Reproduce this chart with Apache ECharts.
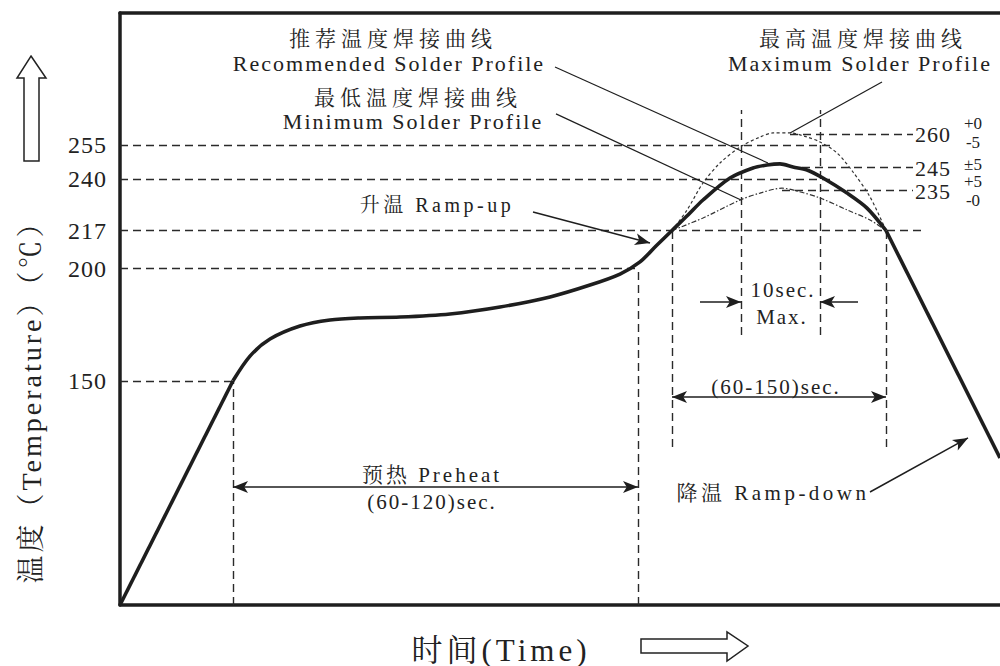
<!DOCTYPE html>
<html>
<head>
<meta charset="utf-8">
<script src="https://cdn.jsdelivr.net/npm/echarts@6/dist/echarts.min.js"></script>
<style>
html,body{margin:0;padding:0;background:#fff;}
#chart{width:1000px;height:666px;}
#chart svg text{letter-spacing:2px;}
</style>
</head>
<body>
<div id="chart"></div>
<script>
// ---- data (time in arbitrary units, temperature in °C) ----
const yTickValues = [150, 200, 217, 240, 255];
const rampUp = [[0, 50], [56.5, 150]];
const recommended = [
  [56.5, 150], [65, 161.0], [75, 168.6], [90, 174.4], [105, 177.1], [120, 178.0],
  [140, 178.4], [165, 179.8], [190, 182.9], [215, 187.4], [235, 192.7], [250, 197.6],
  [260, 203.0], [268, 210.1], [276, 217], [284, 223.9], [291.5, 230.6], [305, 240.4],
  [316.5, 244.9], [323.5, 246.2], [330, 246.7], [336.5, 245.3], [343.5, 244.0],
  [351.5, 240.4], [363.5, 233.7], [373.5, 227.0], [383, 217]
];
const rampDown = [[383, 217], [440, 115.6]];
const maxProfile = [
  [276, 217], [283.5, 226.1], [291.5, 238.2], [300, 247.1], [310, 254.2], [320, 258.7],
  [326.5, 260.5], [335, 260.5], [343.5, 258.7], [350, 256.5], [358.5, 251.6],
  [366.5, 243.1], [375, 232.0], [383, 217]
];
const minProfile = [
  [276, 217], [291.5, 222.6], [310, 230.6], [320, 233.7], [331, 235.9], [338.5, 234.6],
  [350, 231.5], [363.5, 226.2], [375, 221.7], [383, 217]
];
// reference (dashed) levels: [temperature, fromTime, toTime]
const hLevels = [[255, 0, 356], [240, 0, 356], [217, 0, 401], [200, 0, 260], [150, 0, 56.5],
                 [260, 335, 396.5], [245, 341, 396.5], [235, 331, 396.5]];
// vertical dashed markers: [time, fromTemp, toTemp]
const vMarkers = [[56.5, 50, 150], [259, 50, 200], [276, 120.5, 217], [383, 120.5, 217],
                  [310.5, 170.4, 270.7], [350, 170.4, 270.7]];
// dimension arrows: [t1, T1, t2, T2, arrowAtStart, arrowAtEnd]
const arrows = [
  [56.5, 102.6, 259, 102.6, 1, 1],
  [276, 142.8, 383, 142.8, 1, 1],
  [290, 185.1, 310.5, 185.1, 0, 1],
  [369, 185.1, 350, 185.1, 0, 1],
  [206.5, 225.3, 265, 211.4, 0, 1],
  [375, 100.4, 424, 124.5, 0, 1]
];
// leader lines: [t1, T1, t2, T2]
const leaders = [[217.5, 289.9, 324, 247.1], [218, 269.0, 310.5, 230.6], [381, 283.2, 335, 260.5]];

const FONT = '"Liberation Serif", "Noto Serif CJK SC", "Noto Sans CJK SC", serif';
const INK = '#1e1e1e';

const dashStyle = {color: '#2a2a2a', width: 1.4, type: [8, 5]};
const markData = [];
hLevels.forEach(([T, a, b]) => markData.push([{coord: [a, T]}, {coord: [b, T], lineStyle: dashStyle}]));
vMarkers.forEach(([t, a, b]) => markData.push([{coord: [t, a]}, {coord: [t, b], lineStyle: dashStyle}]));
arrows.forEach(([t1, T1, t2, T2, s, e]) => markData.push([
  {coord: [t1, T1], symbol: s ? 'arrow' : 'none', symbolSize: [9, 15]},
  {coord: [t2, T2], symbol: e ? 'arrow' : 'none', symbolSize: [9, 15], lineStyle: {color: INK, width: 1.5, type: 'solid'}}
]));
leaders.forEach(([t1, T1, t2, T2]) => markData.push([
  {coord: [t1, T1], symbol: 'none'},
  {coord: [t2, T2], symbol: 'none', lineStyle: {color: INK, width: 1.2, type: 'solid'}}
]));

function txt(text, x, y, size, align, rot) {
  return {type: 'text', x: x, y: y, rotation: rot || 0, silent: true, z: 100,
    style: {text: text, font: size + 'px ' + FONT, fill: '#222',
      textAlign: align || 'center', align: align || 'center',
      textVerticalAlign: 'middle', verticalAlign: 'middle'}};
}

const graphics = [
  txt('推荐温度焊接曲线', 393, 39, 21),
  txt('Recommended Solder Profile', 389, 63, 22),
  txt('最低温度焊接曲线', 418, 98, 21),
  txt('Minimum Solder Profile', 413, 121, 22),
  txt('最高温度焊接曲线', 863, 39, 21),
  txt('Maximum Solder Profile', 860, 63, 22),
  txt('升温 Ramp-up', 437, 205, 20),
  txt('降温 Ramp-down', 773, 493, 21),
  txt('预热 Preheat', 432, 475, 21),
  txt('(60-120)sec.', 432, 502, 21),
  txt('10sec.', 783, 290, 21),
  txt('Max.', 782, 317, 21),
  txt('(60-150)sec.', 776, 387, 21),
  txt('260', 915, 134, 22, 'left'),
  txt('+0', 973, 123, 17),
  txt('-5', 973, 142, 17),
  txt('245', 915, 168, 22, 'left'),
  txt('±5', 973, 164, 17),
  txt('235', 915, 191, 22, 'left'),
  txt('+5', 973, 181, 17),
  txt('-0', 973, 200, 17),
  txt('时间(Time)', 501, 650, 31),
  txt('温度（Temperature）（℃）', 31, 395, 28, 'center', Math.PI / 2),
  {type: 'polygon', silent: true, shape: {points: [[31, 56], [46, 78], [39, 78], [39, 161], [24, 161], [24, 78], [17, 78]]},
    style: {fill: '#fff', stroke: '#222', lineWidth: 1.5}},
  {type: 'polygon', silent: true, shape: {points: [[641, 639], [727, 639], [727, 632], [748, 646], [727, 661], [727, 653], [641, 653]]},
    style: {fill: '#fff', stroke: '#222', lineWidth: 1.5}}
];

const frameLine = {show: true, onZero: false, lineStyle: {color: INK, width: 3.5}};
const mainLine = {color: INK, width: 3.6};
const option = {
  animation: false,
  backgroundColor: '#fff',
  grid: {left: 120, right: 0, top: 13, bottom: 61, show: false},
  xAxis: [
    {type: 'value', min: 0, max: 440, position: 'bottom', axisLine: frameLine, axisTick: {show: false},
      axisLabel: {show: false}, splitLine: {show: false}},
    {type: 'value', min: 0, max: 440, position: 'top', axisLine: frameLine, axisTick: {show: false},
      axisLabel: {show: false}, splitLine: {show: false}}
  ],
  yAxis: {
    type: 'value', min: 50, max: 314,
    axisLine: frameLine, axisTick: {show: false}, splitLine: {show: false},
    axisLabel: {customValues: yTickValues, fontSize: 24, fontFamily: FONT, color: '#222', margin: 13}
  },
  series: [
    {type: 'line', data: rampUp, symbol: 'none', lineStyle: mainLine, z: 5, silent: true},
    {type: 'line', data: recommended, symbol: 'none', smooth: 0.3, lineStyle: mainLine, z: 5, silent: true,
      markLine: {silent: true, symbol: 'none', label: {show: false}, emphasis: {disabled: true}, data: markData, z: 3}},
    {type: 'line', data: rampDown, symbol: 'none', lineStyle: mainLine, z: 5, silent: true},
    {type: 'line', data: maxProfile, symbol: 'none', smooth: 0.3, z: 4, silent: true,
      lineStyle: {color: '#333', width: 1.2, type: [3, 2.5]}},
    {type: 'line', data: minProfile, symbol: 'none', smooth: 0.3, z: 4, silent: true,
      lineStyle: {color: '#333', width: 1.2, type: [5, 2, 1.5, 2]}}
  ],
  graphic: graphics
};

const dom = document.getElementById('chart');
const chart = echarts.init(dom, null, {renderer: 'svg'});
chart.setOption(option);

const spacing = {
  '推荐温度焊接曲线': 5, '最低温度焊接曲线': 5, '最高温度焊接曲线': 5,
  '升温 Ramp-up': 3.5, '降温 Ramp-down': 3.5, '预热 Preheat': 3,
  '150': 1, '200': 1, '217': 1, '240': 1, '255': 1,
  '260': 1, '245': 1, '235': 1, '+0': 0, '-5': 0, '±5': 0, '+5': 0, '-0': 0,
  '时间(Time)': 4, '温度（Temperature）（℃）': 3
};
function applySpacing() {
  dom.querySelectorAll('text').forEach(function (el) {
    const t = el.textContent;
    const ls = spacing.hasOwnProperty(t) ? spacing[t] : 2;
    el.style.letterSpacing = ls + 'px';
  });
}
chart.on('finished', applySpacing);
applySpacing();
setTimeout(applySpacing, 50);
setTimeout(applySpacing, 300);
</script>
</body>
</html>
